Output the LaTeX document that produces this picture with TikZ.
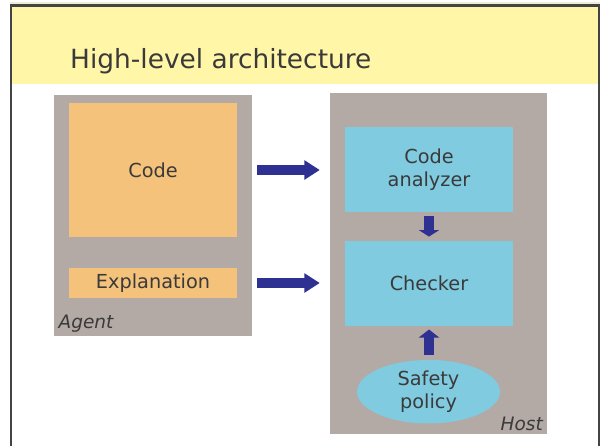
\documentclass[tikz,border=0pt]{standalone}
\usepackage{fontspec}
\setmainfont{DejaVu Sans}
\usetikzlibrary{shapes.geometric,arrows.meta}
\definecolor{frameclr}{HTML}{444444}
\definecolor{titlebg}{HTML}{FFF6A8}
\definecolor{paneclr}{HTML}{B3A9A5}
\definecolor{agentclr}{HTML}{F4C27A}
\definecolor{hostclr}{HTML}{80CBE0}
\definecolor{arrowclr}{HTML}{2E3192}
\definecolor{txtclr}{HTML}{3A3A3A}
\tikzset{
  pane/.style={fill=paneclr, draw=none},
  agentbox/.style={fill=agentclr, draw=none, text=txtclr, font=\fontsize{19.3}{23.5}\selectfont, align=center, inner sep=0pt},
  hostbox/.style={fill=hostclr, draw=none, text=txtclr, font=\fontsize{19.3}{23.5}\selectfont, align=center, inner sep=0pt},
  panelabel/.style={text=txtclr, font=\fontsize{18.5}{22}\selectfont\itshape, inner sep=0pt},
  wideflow/.style={draw=arrowclr, line width=9.6pt, -{Triangle[length=15.5pt,width=18.6pt]}},
  shortflow/.style={draw=arrowclr, line width=10pt, -{Triangle[length=#1,width=20pt]}},
}
\begin{document}
\begin{tikzpicture}[x=1pt,y=-1pt]
\useasboundingbox (0,0) rectangle (602,445);
% slide background and title band
\fill[white] (0,0) rectangle (602,445);
\fill[titlebg!70!gray!40!white] (10,1.5) rectangle (600,4);
\fill[titlebg] (11,5) rectangle (599,84);
\draw[frameclr, line width=2.5pt] (11,447) -- (11,5.5) -- (598.8,5.5) -- (598.8,447);
\node[anchor=base west, text=txtclr, font=\fontsize{26.4}{30}\selectfont, inner sep=0pt] (title) at (70,68) {High-level architecture};

% agent side
\fill[pane] (54,94.5) rectangle (252,335.5);
\node[agentbox, minimum width=168pt, minimum height=134pt] (code) at (153,170) {Code};
\node[agentbox, minimum width=168pt, minimum height=30pt] (expl) at (153,283) {Explanation};
\node[panelabel, anchor=base west] (agent) at (58.5,328.5) {Agent};

% host side
\fill[pane] (330,92.5) rectangle (547,433.5);
\node[hostbox, minimum width=168pt, minimum height=85pt] (analyzer) at (429,169.5) {Code\\analyzer};
\node[hostbox, minimum width=168pt, minimum height=85pt] (checker) at (429,283.4) {Checker};
\node[hostbox, ellipse, minimum width=143pt, minimum height=63.5pt] (policy) at (428.5,391.7) {Safety\\policy};
\node[panelabel, anchor=base east] (host) at (543,430) {Host};

% block arrows between components
\draw[wideflow, shorten <=19.5pt, shorten >=25pt] (code.east) -- (code.east -| analyzer.west);
\draw[wideflow, shorten <=19.5pt, shorten >=25pt] (expl.east) -- (expl.east -| checker.west);
\draw[shortflow=6.5pt, shorten <=3.8pt, shorten >=4.1pt] (analyzer.south) -- (checker.north);
\draw[shortflow=8pt, shorten <=5pt, shorten >=3.4pt] (policy.north -| checker.south) -- (checker.south);
\end{tikzpicture}
\end{document}
